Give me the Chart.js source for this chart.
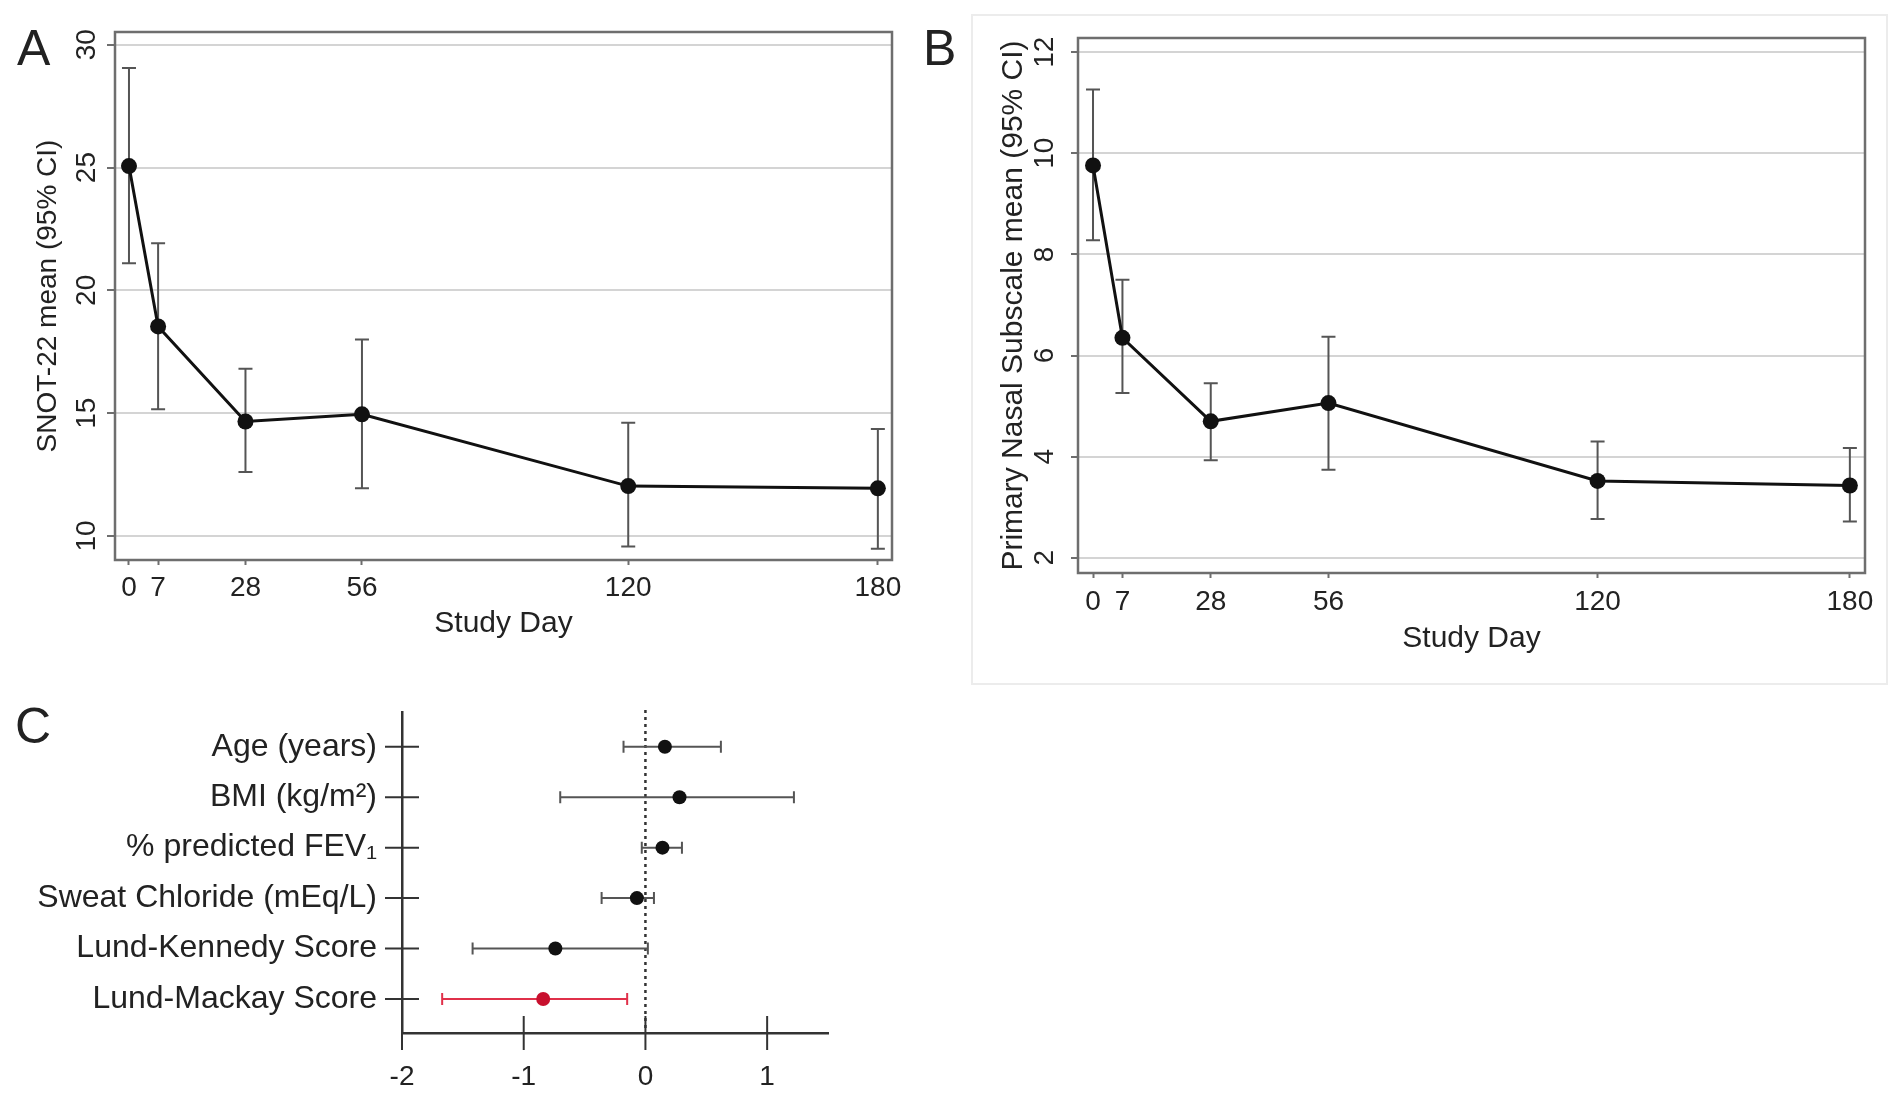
<!DOCTYPE html>
<html>
<head>
<meta charset="utf-8">
<script src="https://cdn.jsdelivr.net/npm/chart.js@4.4.1/dist/chart.umd.min.js"></script>
<style>
  html, body { margin: 0; padding: 0; background: #fff; }
  body { width: 1897px; height: 1097px; position: relative; overflow: hidden; font-family: "Liberation Sans", Arial, sans-serif; }
  canvas { position: absolute; }
  .tag { position: absolute; font-size: 50px; line-height: 1; color: #222; }
  #frameB { position: absolute; left: 971px; top: 14px; width: 913px; height: 667px; border: 2px solid #ececec; }
</style>
</head>
<body>
<div id="frameB"></div>
<canvas id="chartA" width="930" height="660" style="left:0;top:0"></canvas>
<canvas id="chartB" width="937" height="690" style="left:960px;top:0"></canvas>
<canvas id="chartC" width="880" height="407" style="left:0;top:690px"></canvas>
<div class="tag" style="left:17px;top:23px">A</div>
<div class="tag" style="left:923px;top:23px">B</div>
<div class="tag" style="left:15px;top:701px">C</div>
<script>
// study days (x) shared by panels A and B
const days = [0, 7, 28, 56, 120, 180];

// panel A: SNOT-22 mean and 95% CI
const snotMean = [25.06, 18.53, 14.66, 14.95, 12.03, 11.94];
const snotLower = [21.1, 15.16, 12.6, 11.94, 9.57, 9.48];
const snotUpper = [29.05, 21.92, 16.81, 18.0, 14.61, 14.35];

// panel B: primary nasal subscale mean and 95% CI
const nasalMean = [9.76, 6.35, 4.7, 5.06, 3.52, 3.43];
const nasalLower = [8.28, 5.26, 3.93, 3.74, 2.77, 2.72];
const nasalUpper = [11.26, 7.5, 5.45, 6.37, 4.3, 4.17];

// panel C: predictors, estimate and 95% CI
const predictors = ['Age (years)', 'BMI (kg/m²)', '% predicted FEV₁', 'Sweat Chloride (mEq/L)', 'Lund-Kennedy Score', 'Lund-Mackay Score'];
const estimate = [0.16, 0.28, 0.14, -0.07, -0.74, -0.84];
const ciLow = [-0.18, -0.70, -0.03, -0.36, -1.42, -1.67];
const ciHigh = [0.62, 1.22, 0.30, 0.07, 0.02, -0.15];

// tick labels
const dayTicks = [0, 7, 28, 56, 120, 180];
const snotTicks = [10, 15, 20, 25, 30];
const nasalTicks = [2, 4, 6, 8, 10, 12];
const effectTicks = [-2, -1, 0, 1];

const FONT = '"Liberation Sans", Arial, sans-serif';
const INK = '#222';
const FRAME = '#6e6e6e';

Chart.defaults.font.family = FONT;
Chart.defaults.color = INK;

const verticalBars = (lower, upper) => ({
    id: 'verticalBars',
    beforeDatasetsDraw(chart) {
        const {ctx, chartArea: a, scales: {x, y}} = chart;
        ctx.save();
        ctx.strokeStyle = FRAME;
        ctx.lineWidth = 2.5;
        ctx.strokeRect(a.left, a.top, a.right - a.left, a.bottom - a.top);
        ctx.strokeStyle = '#555';
        ctx.lineWidth = 2;
        days.forEach((d, i) => {
            const px = x.getPixelForValue(d);
            const lo = y.getPixelForValue(lower[i]);
            const hi = y.getPixelForValue(upper[i]);
            ctx.beginPath();
            ctx.moveTo(px, lo); ctx.lineTo(px, hi);
            ctx.moveTo(px - 7, lo); ctx.lineTo(px + 7, lo);
            ctx.moveTo(px - 7, hi); ctx.lineTo(px + 7, hi);
            ctx.stroke();
        });
        ctx.restore();
    }
});

const createTimeChart = (canvasId, means, lower, upper, cfg) => {
    const data = {
        datasets: [{
            data: days.map((d, i) => ({x: d, y: means[i]})),
            showLine: true,
            borderColor: '#111',
            borderWidth: 3,
            pointRadius: 8,
            pointBackgroundColor: '#111',
            pointBorderWidth: 0,
        }]
    };

    const config = {
        type: 'scatter',
        data: data,
        plugins: [verticalBars(lower, upper)],
        options: {
            responsive: false,
            animation: false,
            layout: { padding: cfg.padding },
            plugins: { legend: { display: false }, tooltip: { enabled: false } },
            scales: {
                x: {
                    type: 'linear',
                    min: cfg.xMin,
                    max: cfg.xMax,
                    afterBuildTicks: s => { s.ticks = dayTicks.map(v => ({value: v})); },
                    afterFit: s => { s.height = cfg.xHeight; },
                    grid: { drawOnChartArea: false, tickLength: 5, tickColor: FRAME, tickWidth: 2 },
                    border: { display: false },
                    ticks: { autoSkip: false, maxRotation: 0, padding: cfg.xPad, font: { size: 28 } },
                    title: { display: true, text: 'Study Day', font: { size: 30 }, padding: { top: 0, bottom: 0 } }
                },
                y: {
                    type: 'linear',
                    min: cfg.yMin,
                    max: cfg.yMax,
                    afterBuildTicks: s => { s.ticks = cfg.yTicks.map(v => ({value: v})); },
                    afterFit: s => { s.width = cfg.yWidth; },
                    grid: { color: '#d4d4d4', lineWidth: 2, tickLength: cfg.tick, tickColor: FRAME, tickWidth: 2 },
                    border: { display: false },
                    ticks: { minRotation: 90, maxRotation: 90, crossAlign: 'center', padding: cfg.yPad, font: { size: 28 } },
                    title: { display: true, text: cfg.title, font: { size: cfg.titleSize }, padding: { top: cfg.titlePad, bottom: 0 } }
                }
            }
        }
    };

    new Chart(document.getElementById(canvasId), config);
};

createTimeChart('chartA', snotMean, snotLower, snotUpper, {
    padding: { left: 20, top: 32, right: 38, bottom: 18 },
    xMin: -3.36, xMax: 183.4, xHeight: 82, xPad: 6,
    yMin: 9.02, yMax: 30.52, yTicks: snotTicks, yWidth: 95, yPad: 4, tick: 8,
    title: 'SNOT-22 mean (95% CI)', titleSize: 28, titlePad: 11
});

createTimeChart('chartB', nasalMean, nasalLower, nasalUpper, {
    padding: { left: 26, top: 38, right: 32, bottom: 33 },
    xMin: -3.57, xMax: 183.6, xHeight: 84, xPad: 7,
    yMin: 1.7, yMax: 12.28, yTicks: nasalTicks, yWidth: 92, yPad: 10, tick: 7,
    title: 'Primary Nasal Subscale mean (95% CI)', titleSize: 30, titlePad: 10
});

// panel C: forest plot
const forestMarks = {
    id: 'forestMarks',
    beforeDatasetsDraw(chart) {
        const {ctx, chartArea: a, scales: {x, y}} = chart;
        ctx.save();
        // dotted reference line at zero
        const x0 = x.getPixelForValue(0);
        ctx.strokeStyle = '#333';
        ctx.lineWidth = 2.5;
        ctx.setLineDash([3, 4]);
        ctx.beginPath();
        ctx.moveTo(x0, a.top - 2); ctx.lineTo(x0, a.bottom);
        ctx.stroke();
        ctx.setLineDash([]);
        // ticks crossing both axes
        ctx.lineWidth = 2;
        x.ticks.forEach(t => {
            const px = x.getPixelForValue(t.value);
            ctx.beginPath();
            ctx.moveTo(px, a.bottom - 17); ctx.lineTo(px, a.bottom + 17);
            ctx.stroke();
        });
        y.ticks.forEach(t => {
            const py = y.getPixelForValue(t.value);
            ctx.beginPath();
            ctx.moveTo(a.left - 17, py); ctx.lineTo(a.left + 17, py);
            ctx.stroke();
        });
        // confidence intervals
        predictors.forEach((p, i) => {
            const py = y.getPixelForValue(i);
            const lo = x.getPixelForValue(ciLow[i]);
            const hi = x.getPixelForValue(ciHigh[i]);
            ctx.strokeStyle = (ciHigh[i] < 0 || ciLow[i] > 0) ? '#e0304a' : '#555';
            ctx.beginPath();
            ctx.moveTo(lo, py); ctx.lineTo(hi, py);
            ctx.moveTo(lo, py - 6); ctx.lineTo(lo, py + 6);
            ctx.moveTo(hi, py - 6); ctx.lineTo(hi, py + 6);
            ctx.stroke();
        });
        ctx.restore();
    }
};

new Chart(document.getElementById('chartC'), {
    type: 'scatter',
    data: {
        datasets: [{
            data: estimate.map((v, i) => ({x: v, y: i})),
            pointRadius: 7,
            pointBorderWidth: 0,
            pointBackgroundColor: predictors.map((p, i) => (ciHigh[i] < 0 || ciLow[i] > 0) ? '#c8102e' : '#111'),
        }]
    },
    plugins: [forestMarks],
    options: {
        responsive: false,
        animation: false,
        layout: { padding: { left: 0, top: 22, right: 52, bottom: 0 } },
        plugins: { legend: { display: false }, tooltip: { enabled: false } },
        scales: {
            x: {
                type: 'linear',
                min: -2,
                max: 1.5,
                afterBuildTicks: s => { s.ticks = effectTicks.map(v => ({value: v})); },
                afterFit: s => { s.height = 64; },
                grid: { drawOnChartArea: false, drawTicks: false },
                border: { display: true, color: '#333', width: 2.5 },
                ticks: { padding: 27, font: { size: 28 } }
            },
            y: {
                type: 'linear',
                reverse: true,
                min: -0.69,
                max: 5.675,
                afterBuildTicks: s => { s.ticks = predictors.map((p, i) => ({value: i})); },
                afterFit: s => { s.width = 402; },
                grid: { drawOnChartArea: false, drawTicks: true, tickLength: 25, tickColor: 'rgba(0,0,0,0)' },
                border: { display: true, color: '#333', width: 2.5 },
                ticks: { padding: 0, font: { size: 32 }, callback: v => predictors[v] }
            }
        }
    }
});
</script>
</body>
</html>
